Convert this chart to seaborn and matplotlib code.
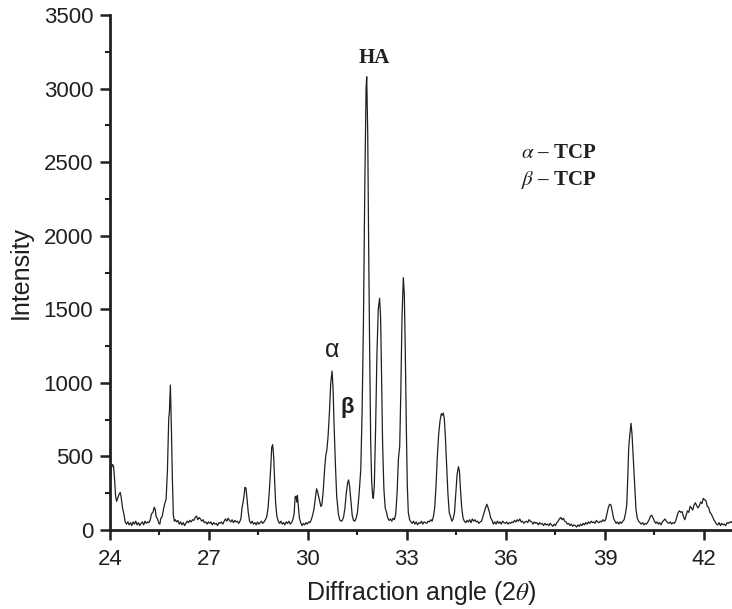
import numpy as np
import pandas as pd
import matplotlib
matplotlib.use("Agg")
import matplotlib.pyplot as plt
from matplotlib.ticker import MultipleLocator
import seaborn as sns

### ------------------- data -------------------------------------------------
# (2theta, counts) pairs, one list per stretch of the pattern
low_angle = [
    (24.00, 330), (24.04, 420), (24.08, 445), (24.11, 430), (24.14, 340), (24.17, 230),
    (24.20, 195), (24.23, 215), (24.27, 240), (24.31, 255), (24.34, 220), (24.38, 150),
    (24.42, 110), (24.46, 55), (24.50, 40), (24.54, 55), (24.58, 35), (24.62, 50),
    (24.66, 30), (24.70, 55), (24.74, 40), (24.78, 60), (24.82, 35), (24.86, 50),
    (24.90, 30), (24.94, 45), (24.98, 55), (25.02, 35), (25.06, 60), (25.10, 45),
    (25.14, 55), (25.18, 50), (25.22, 70), (25.26, 110), (25.30, 120), (25.34, 155),
    (25.37, 140), (25.40, 90), (25.44, 75), (25.48, 45), (25.51, 40), (25.54, 80),
    (25.58, 90), (25.62, 140), (25.66, 180), (25.70, 210), (25.74, 400), (25.78, 760),
    (25.80, 800), (25.83, 985), (25.86, 700), (25.89, 350), (25.92, 100), (25.95, 60),
    (25.98, 70), (26.02, 55), (26.06, 65), (26.10, 40), (26.14, 55), (26.18, 35),
    (26.22, 50), (26.26, 30), (26.30, 45), (26.34, 60), (26.38, 50), (26.42, 65),
    (26.46, 55), (26.50, 70), (26.54, 65), (26.58, 85), (26.62, 95), (26.66, 70),
    (26.70, 85), (26.74, 75), (26.78, 60), (26.82, 70), (26.86, 50), (26.90, 55),
    (26.94, 40), (26.98, 55), (27.02, 45), (27.06, 55), (27.10, 35), (27.14, 50),
    (27.18, 40), (27.22, 45), (27.26, 30), (27.30, 50), (27.34, 45), (27.38, 55),
    (27.42, 40), (27.46, 60), (27.50, 75), (27.54, 60), (27.58, 80), (27.62, 65),
    (27.66, 55), (27.70, 70), (27.74, 50), (27.78, 65), (27.82, 55), (27.86, 60),
    (27.90, 45), (27.94, 60),
]

tcp_region = [
    (27.97, 80), (28.00, 150), (28.03, 185), (28.06, 230), (28.09, 290), (28.12, 285),
    (28.15, 220), (28.19, 120), (28.23, 60), (28.27, 45), (28.31, 60), (28.35, 40),
    (28.39, 50), (28.43, 35), (28.47, 55), (28.51, 40), (28.55, 50), (28.59, 60),
    (28.63, 45), (28.67, 55), (28.71, 70), (28.75, 90), (28.79, 150), (28.83, 270),
    (28.87, 420), (28.90, 560), (28.93, 580), (28.96, 500), (28.99, 330), (29.02, 180),
    (29.06, 90), (29.10, 60), (29.14, 45), (29.18, 60), (29.22, 40), (29.26, 50),
    (29.30, 35), (29.34, 55), (29.38, 45), (29.42, 60), (29.46, 40), (29.50, 50),
    (29.54, 70), (29.58, 110), (29.61, 225), (29.64, 230), (29.66, 190), (29.68, 235),
    (29.71, 160), (29.74, 80), (29.78, 50), (29.82, 30), (29.86, 45), (29.90, 35),
    (29.94, 50), (29.98, 40), (30.02, 55), (30.06, 50), (30.10, 70), (30.14, 100),
    (30.18, 140), (30.22, 210), (30.26, 280), (30.29, 260), (30.32, 230), (30.35, 200),
    (30.39, 160), (30.42, 170), (30.46, 260), (30.50, 400), (30.54, 510), (30.57, 540),
    (30.61, 640), (30.65, 800), (30.69, 1000), (30.73, 1080), (30.76, 960), (30.79, 720),
    (30.83, 450), (30.87, 230), (30.92, 110), (30.96, 70), (31.00, 60), (31.04, 65),
    (31.08, 90), (31.12, 150), (31.16, 250), (31.20, 320), (31.23, 340), (31.26, 300),
    (31.30, 200), (31.34, 100), (31.38, 65), (31.42, 60), (31.46, 80),
]

ha_region = [
    (31.50, 120), (31.55, 250), (31.60, 410), (31.64, 800), (31.68, 1400), (31.72, 2300),
    (31.76, 3000), (31.78, 3080), (31.81, 2700), (31.84, 1900), (31.87, 1200), (31.90, 600),
    (31.93, 330), (31.96, 230), (31.98, 215), (32.01, 300), (32.05, 700), (32.09, 1200),
    (32.13, 1500), (32.17, 1575), (32.20, 1450), (32.23, 1050), (32.26, 600), (32.30, 280),
    (32.34, 150), (32.38, 120), (32.42, 80), (32.46, 65), (32.50, 75), (32.54, 60),
    (32.58, 80), (32.62, 70), (32.66, 110), (32.70, 250), (32.74, 480), (32.78, 570),
    (32.81, 900), (32.85, 1450), (32.89, 1715), (32.92, 1600), (32.95, 1200), (32.98, 700),
    (33.01, 300), (33.04, 120), (33.08, 70), (33.12, 55), (33.16, 45), (33.20, 60),
    (33.24, 40), (33.28, 55), (33.32, 35), (33.36, 50), (33.40, 45), (33.44, 60),
    (33.48, 40), (33.52, 55), (33.56, 50), (33.60, 45), (33.64, 60), (33.68, 55),
    (33.72, 70), (33.76, 60), (33.80, 90), (33.84, 150), (33.88, 300), (33.92, 500),
    (33.96, 650), (34.00, 740), (34.04, 790), (34.07, 780), (34.10, 795), (34.13, 760),
    (34.16, 650), (34.20, 450), (34.24, 250), (34.28, 120), (34.32, 90), (34.36, 60),
    (34.40, 75), (34.44, 120), (34.48, 250), (34.52, 380), (34.56, 430), (34.59, 400),
    (34.62, 280), (34.66, 150), (34.70, 80), (34.74, 60),
]

high_angle = [
    (34.78, 50), (34.82, 65), (34.86, 55), (34.90, 70), (34.94, 50), (34.98, 75),
    (35.02, 60), (35.06, 70), (35.10, 55), (35.14, 60), (35.18, 45), (35.22, 55),
    (35.26, 60), (35.30, 90), (35.34, 120), (35.38, 150), (35.42, 175), (35.46, 150),
    (35.50, 120), (35.54, 80), (35.58, 65), (35.62, 40), (35.66, 55), (35.70, 40),
    (35.74, 60), (35.78, 45), (35.82, 55), (35.86, 40), (35.90, 60), (35.94, 50),
    (35.98, 45), (36.02, 55), (36.06, 40), (36.10, 50), (36.14, 45), (36.18, 55),
    (36.22, 50), (36.26, 65), (36.30, 55), (36.34, 70), (36.38, 60), (36.42, 75),
    (36.46, 55), (36.50, 60), (36.54, 45), (36.58, 55), (36.62, 60), (36.66, 50),
    (36.70, 70), (36.74, 60), (36.78, 55), (36.82, 40), (36.86, 55), (36.90, 45),
    (36.94, 50), (36.98, 35), (37.02, 50), (37.06, 40), (37.10, 45), (37.14, 30),
    (37.18, 45), (37.22, 35), (37.26, 40), (37.30, 30), (37.34, 45), (37.38, 35),
    (37.42, 25), (37.46, 40), (37.50, 30), (37.54, 50), (37.58, 60), (37.62, 75),
    (37.66, 85), (37.70, 70), (37.74, 80), (37.78, 60), (37.82, 55), (37.86, 40),
    (37.90, 45), (37.94, 30), (37.98, 40), (38.02, 25), (38.06, 35), (38.10, 30),
    (38.14, 20), (38.18, 35), (38.22, 25), (38.26, 40), (38.30, 30), (38.34, 45),
    (38.38, 35), (38.42, 50), (38.46, 40), (38.50, 55), (38.54, 45), (38.58, 60),
    (38.62, 50), (38.66, 55), (38.70, 45), (38.74, 65), (38.78, 55), (38.82, 50),
    (38.86, 60), (38.90, 55), (38.94, 70), (38.98, 60), (39.02, 70), (39.06, 110),
    (39.10, 150), (39.14, 175), (39.18, 170), (39.22, 130), (39.26, 80), (39.30, 60),
    (39.34, 45), (39.38, 55), (39.42, 40), (39.46, 55), (39.50, 45), (39.54, 60),
    (39.58, 70), (39.62, 110), (39.66, 170), (39.69, 350), (39.72, 560), (39.75, 640),
    (39.79, 725), (39.82, 650), (39.85, 520), (39.88, 400), (39.91, 250), (39.94, 140),
    (39.98, 80), (40.02, 60), (40.06, 50), (40.10, 40), (40.14, 50), (40.18, 35),
    (40.22, 45), (40.26, 40), (40.30, 55), (40.34, 70), (40.38, 95), (40.42, 100),
    (40.46, 80), (40.50, 60), (40.54, 45), (40.58, 55), (40.62, 40), (40.66, 50),
    (40.70, 35), (40.74, 55), (40.78, 65), (40.82, 75), (40.86, 60), (40.90, 50),
    (40.94, 45), (40.98, 55), (41.02, 40), (41.06, 50), (41.10, 45), (41.14, 60),
    (41.18, 90), (41.22, 120), (41.26, 130), (41.30, 120), (41.34, 125), (41.38, 90),
    (41.42, 70), (41.46, 100), (41.50, 130), (41.54, 120), (41.58, 160), (41.62, 150),
    (41.66, 135), (41.70, 170), (41.74, 185), (41.78, 165), (41.82, 150), (41.86, 165),
    (41.90, 190), (41.94, 180), (41.98, 215), (42.02, 205), (42.06, 200), (42.10, 160),
    (42.14, 155), (42.18, 120), (42.22, 110), (42.26, 90), (42.30, 70), (42.34, 55),
    (42.38, 40), (42.42, 35), (42.46, 50), (42.50, 30), (42.54, 45), (42.58, 35),
    (42.62, 40), (42.66, 30), (42.70, 50), (42.74, 45), (42.78, 55), (42.82, 50),
    (42.86, 60),
]

# peak labels
peak_labels = ["HA", "α", "β"]
peak_x = [32.0, 30.72, 31.2]
peak_y = [3210, 1225, 830]

x_ticks = [24, 27, 30, 33, 36, 39, 42]
y_ticks = [0, 500, 1000, 1500, 2000, 2500, 3000, 3500]

xrd = pd.DataFrame(low_angle + tcp_region + ha_region + high_angle,
                   columns=["two_theta", "intensity"])

### ------------------- plot ----------------------
sns.set_style("ticks")
plt.rcParams["font.family"] = ["Liberation Sans", "DejaVu Sans"]
plt.rcParams["mathtext.fontset"] = "stix"
ink = "#231f20"

fig = plt.figure(figsize=(7.32, 6.09), dpi=100)
ax = fig.add_axes([110 / 732, 1 - 530 / 609, 622 / 732, 515 / 609])

sns.lineplot(data=xrd, x="two_theta", y="intensity", ax=ax,
             color=ink, linewidth=0.9, estimator=None)

ax.set_xlim(24, 42.85)
ax.set_ylim(0, 3500)
ax.set_xticks(x_ticks)
ax.set_yticks(y_ticks)
ax.xaxis.set_minor_locator(MultipleLocator(1.5))
ax.yaxis.set_minor_locator(MultipleLocator(250))
ax.tick_params(which="major", length=7, width=1.8, direction="out",
               labelsize=16, colors=ink, pad=5)
ax.tick_params(axis="x", which="major", pad=7)
ax.tick_params(which="minor", length=3.5, width=1.5, direction="out", colors=ink)
for side in ["top", "right"]:
    ax.spines[side].set_visible(False)
for side in ["left", "bottom"]:
    ax.spines[side].set_linewidth(2)
    ax.spines[side].set_color(ink)

ax.set_xlabel(r"Diffraction angle (2$\theta$)", fontsize=18, color=ink, labelpad=6)
ax.set_ylabel("Intensity", fontsize=18, color=ink, labelpad=8)

# peak markers
ax.text(peak_x[0], peak_y[0], peak_labels[0], ha="center", va="center",
        fontsize=15, fontweight="bold", family="Liberation Serif", color=ink)
ax.text(peak_x[1], peak_y[1], peak_labels[1], ha="center", va="center",
        fontsize=18, color=ink)
ax.text(peak_x[2], peak_y[2], peak_labels[2], ha="center", va="center",
        fontsize=16, fontweight="bold", color=ink)

# phase key
ax.text(36.45, 2560, r"$\alpha$ – TCP", ha="left", va="center", fontsize=15,
        fontweight="bold", family="Liberation Serif", color=ink)
ax.text(36.45, 2380, r"$\beta$ – TCP", ha="left", va="center", fontsize=15,
        fontweight="bold", family="Liberation Serif", color=ink)

fig.savefig("out.png", dpi=100)
